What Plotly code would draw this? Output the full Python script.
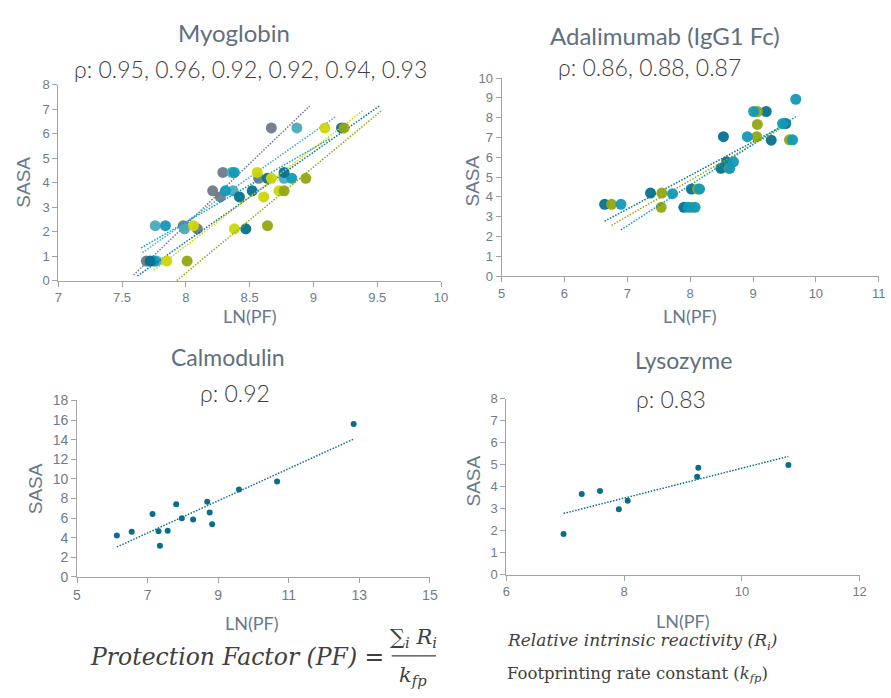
import numpy as np
import plotly.graph_objects as go

W, H = 891, 698

# ---------------- DATA ----------------
# Myoglobin (6 series)
myo_gray_x = [8.67, 8.29, 8.57, 8.21, 8.27, 7.98, 8.09, 7.69]
myo_gray_y = [6.23, 4.42, 4.18, 3.67, 3.42, 2.25, 2.12, 0.81]
myo_ltteal_x = [8.87, 8.36, 8.77, 8.37, 7.76, 7.99, 7.77]
myo_ltteal_y = [6.23, 4.42, 4.18, 3.67, 2.25, 2.12, 0.81]
myo_teal_x = [8.38, 8.83, 8.31, 7.84, 7.75]
myo_teal_y = [4.42, 4.18, 3.67, 2.25, 0.81]
myo_dkteal_x = [9.22, 8.77, 8.64, 8.52, 8.42, 8.47, 7.72]
myo_dkteal_y = [6.23, 4.42, 4.18, 3.67, 3.42, 2.12, 0.81]
myo_yellow_x = [9.09, 8.56, 8.67, 8.73, 8.61, 8.06, 8.38, 7.85]
myo_yellow_y = [6.23, 4.42, 4.18, 3.67, 3.42, 2.25, 2.12, 0.81]
myo_olive_x = [9.24, 8.94, 8.77, 8.64, 8.01]
myo_olive_y = [6.23, 4.18, 3.67, 2.25, 0.81]

# Adalimumab (3 series)
ada_dkteal_x = [6.64, 7.37, 8.02, 7.90, 8.49, 8.58, 8.53, 9.21, 9.29, 9.52]
ada_dkteal_y = [3.62, 4.19, 4.39, 3.47, 5.44, 5.77, 7.04, 8.31, 6.86, 7.70]
ada_olive_x = [6.75, 7.55, 7.54, 8.03, 8.12, 8.62, 9.07, 9.07, 9.06, 9.58]
ada_olive_y = [3.62, 4.19, 3.47, 3.47, 4.39, 5.44, 8.31, 7.66, 7.04, 6.88]
ada_teal_x = [6.90, 7.72, 7.97, 8.08, 8.15, 8.63, 8.69, 8.91, 9.01, 9.47, 9.63, 9.68]
ada_teal_y = [3.62, 4.16, 3.47, 3.47, 4.39, 5.44, 5.77, 7.04, 8.31, 7.70, 6.88, 8.93]

# Calmodulin
cal_x = [6.13, 6.55, 7.14, 7.31, 7.35, 7.57, 7.81, 7.97, 8.29, 8.69, 8.76, 8.83, 9.59, 10.67, 12.84]
cal_y = [4.22, 4.62, 6.41, 4.65, 3.19, 4.72, 7.41, 5.98, 5.85, 7.67, 6.58, 5.38, 8.93, 9.73, 15.61]

# Lysozyme
lys_x = [6.97, 7.28, 7.59, 7.91, 8.06, 9.24, 9.26, 10.79]
lys_y = [1.85, 3.67, 3.81, 2.98, 3.36, 4.46, 4.87, 4.99]

titles = ["Myoglobin", "Adalimumab (IgG1 Fc)", "Calmodulin", "Lysozyme"]
rho_texts = ["ρ: 0.95, 0.96, 0.92, 0.92, 0.94, 0.93", "ρ: 0.86, 0.88, 0.87", "ρ: 0.92", "ρ: 0.83"]

# ---------------- STYLE ----------------
C_GRAY = "#6b7a8a"
C_LTTEAL = "#4aaab9"
C_TEAL = "#1199b9"
C_DKTEAL = "#04718f"
C_YELLOW = "#cbd608"
C_OLIVE = "#93a711"
AX_COL = "#a3a3a3"
TICK_COL = "#6f7b8a"
LBL_COL = "#68788a"
TXT_COL = "#404040"

fig = go.Figure()


def px(x):
    return x / W


def py(y):
    return 1 - y / H


def add_series(xs, ys, color, size, xa, ya, back=0.0, fwd=0.0, opacity=0.95):
    xs = np.asarray(xs, float)
    ys = np.asarray(ys, float)
    m, b = np.polyfit(xs, ys, 1)
    lx = np.array([xs.min() - back, xs.max() + fwd])
    fig.add_trace(go.Scatter(x=lx, y=m * lx + b, mode="lines",
                             line=dict(color=color, width=1.5, dash="1.5px,1.5px"),
                             xaxis=xa, yaxis=ya, showlegend=False, hoverinfo="skip"))
    fig.add_trace(go.Scatter(x=xs, y=ys, mode="markers",
                             marker=dict(color=color, size=size, opacity=opacity, line=dict(width=0)),
                             xaxis=xa, yaxis=ya, showlegend=False))


# Myoglobin
for xs, ys, c in [(myo_gray_x, myo_gray_y, C_GRAY), (myo_ltteal_x, myo_ltteal_y, C_LTTEAL),
                  (myo_teal_x, myo_teal_y, C_TEAL), (myo_dkteal_x, myo_dkteal_y, C_DKTEAL),
                  (myo_yellow_x, myo_yellow_y, C_YELLOW), (myo_olive_x, myo_olive_y, C_OLIVE)]:
    add_series(xs, ys, c, 11, "x", "y", back=0.1, fwd=0.3)

# Adalimumab
for xs, ys, c in [(ada_dkteal_x, ada_dkteal_y, C_DKTEAL), (ada_olive_x, ada_olive_y, C_OLIVE),
                  (ada_teal_x, ada_teal_y, C_TEAL)]:
    add_series(xs, ys, c, 11, "x2", "y2")

add_series(cal_x, cal_y, "#0a6e8a", 6, "x3", "y3", opacity=1)
add_series(lys_x, lys_y, "#0a6e8a", 6, "x4", "y4", opacity=1)

# panel geometry (pixels): left, right, top, bottom
panels = [
    (55, 443, 78.3, 279.3, [7, 10], 0.5, [0, 8], 1, 13),
    (504.3, 886.7, 71.7, 274.3, [5, 11], 1, [0, 10], 1, 13),
    (74, 431.7, 401.7, 582.3, [5, 15], 2, [0, 18], 2, 14),
    (509.3, 867.3, 400, 580, [6, 12], 2, [0, 8], 1, 13),
]

layout = dict(width=W, height=H, margin=dict(l=0, r=0, t=0, b=0),
              paper_bgcolor="white", plot_bgcolor="white", showlegend=False)

for i, (l, r, t, b, xr, xd, yr, yd, fs) in enumerate(panels):
    sfx = "" if i == 0 else str(i + 1)
    common = dict(showline=True, linecolor=AX_COL, linewidth=1, ticks="outside",
                  ticklen=5, tickcolor=AX_COL, showgrid=False, zeroline=False,
                  tickfont=dict(family="Liberation Sans, Arial", size=fs, color=TICK_COL))
    layout["xaxis" + sfx] = dict(domain=[px(l), px(r)], range=xr, dtick=xd, tick0=xr[0],
                                 anchor="y" + sfx, **common)
    layout["yaxis" + sfx] = dict(domain=[py(b), py(t)], range=yr, dtick=yd, tick0=0,
                                 anchor="x" + sfx, **common)

fig.update_layout(**layout)

ann = []


def text(x, y, s, size, color, family, xanchor="center", angle=0, weight=None, style=None):
    f = dict(size=size, color=color, family=family)
    if weight:
        f["weight"] = weight
    if style:
        f["style"] = style
    ann.append(dict(x=px(x), y=py(y), xref="paper", yref="paper", text=s, showarrow=False,
                    xanchor=xanchor, yanchor="middle", font=f, textangle=angle))


TITLE_COL = "#5f6f80"
# titles
text(233, 25, titles[0], 24, TITLE_COL, "Lato")
text(670, 28, titles[1], 24, TITLE_COL, "Lato")
text(227, 357, titles[2], 23, TITLE_COL, "Lato")
text(689, 360, titles[3], 23, TITLE_COL, "Lato")
# rho
text(250, 62, rho_texts[0], 23, TXT_COL, "Lato", weight=300)
text(654, 60, rho_texts[1], 23, TXT_COL, "Lato", weight=300)
text(234, 394, rho_texts[2], 23, TXT_COL, "Lato", weight=300)
text(676, 400, rho_texts[3], 23, TXT_COL, "Lato", weight=300)
# axis titles
for (x, y) in [(20, 178), (475, 177), (32, 492), (476, 484)]:
    text(x, y, "SASA", 19, LBL_COL, "Liberation Sans, Arial", angle=-90)
for (x, y) in [(249, 315), (695, 315), (251, 629), (688, 627)]:
    text(x, y, "LN(PF)", 18, LBL_COL, "Lato")

# formula
text(387, 664, "Protection Factor (PF) =", 23.5, TXT_COL, "DejaVu Serif", xanchor="right", style="italic")
text(415, 645, "∑<sub>i</sub> R<sub>i</sub>", 21, TXT_COL, "DejaVu Serif", style="italic")
text(415, 684, "k<sub>fp</sub>", 21, TXT_COL, "DejaVu Serif", style="italic")
text(508, 648, "Relative intrinsic reactivity (<i>R<sub>i</sub></i>)", 17, TXT_COL,
     "DejaVu Serif", xanchor="left", style="italic")
text(508, 682, "Footprinting rate constant (<i>k<sub>fp</sub></i>)", 16.5, TXT_COL,
     "DejaVu Serif", xanchor="left")

fig.update_layout(annotations=ann,
                  shapes=[dict(type="line", xref="paper", yref="paper",
                               x0=px(393), x1=px(438), y0=py(663), y1=py(663),
                               line=dict(color=TXT_COL, width=1.3))])

fig.write_html("out.html")
